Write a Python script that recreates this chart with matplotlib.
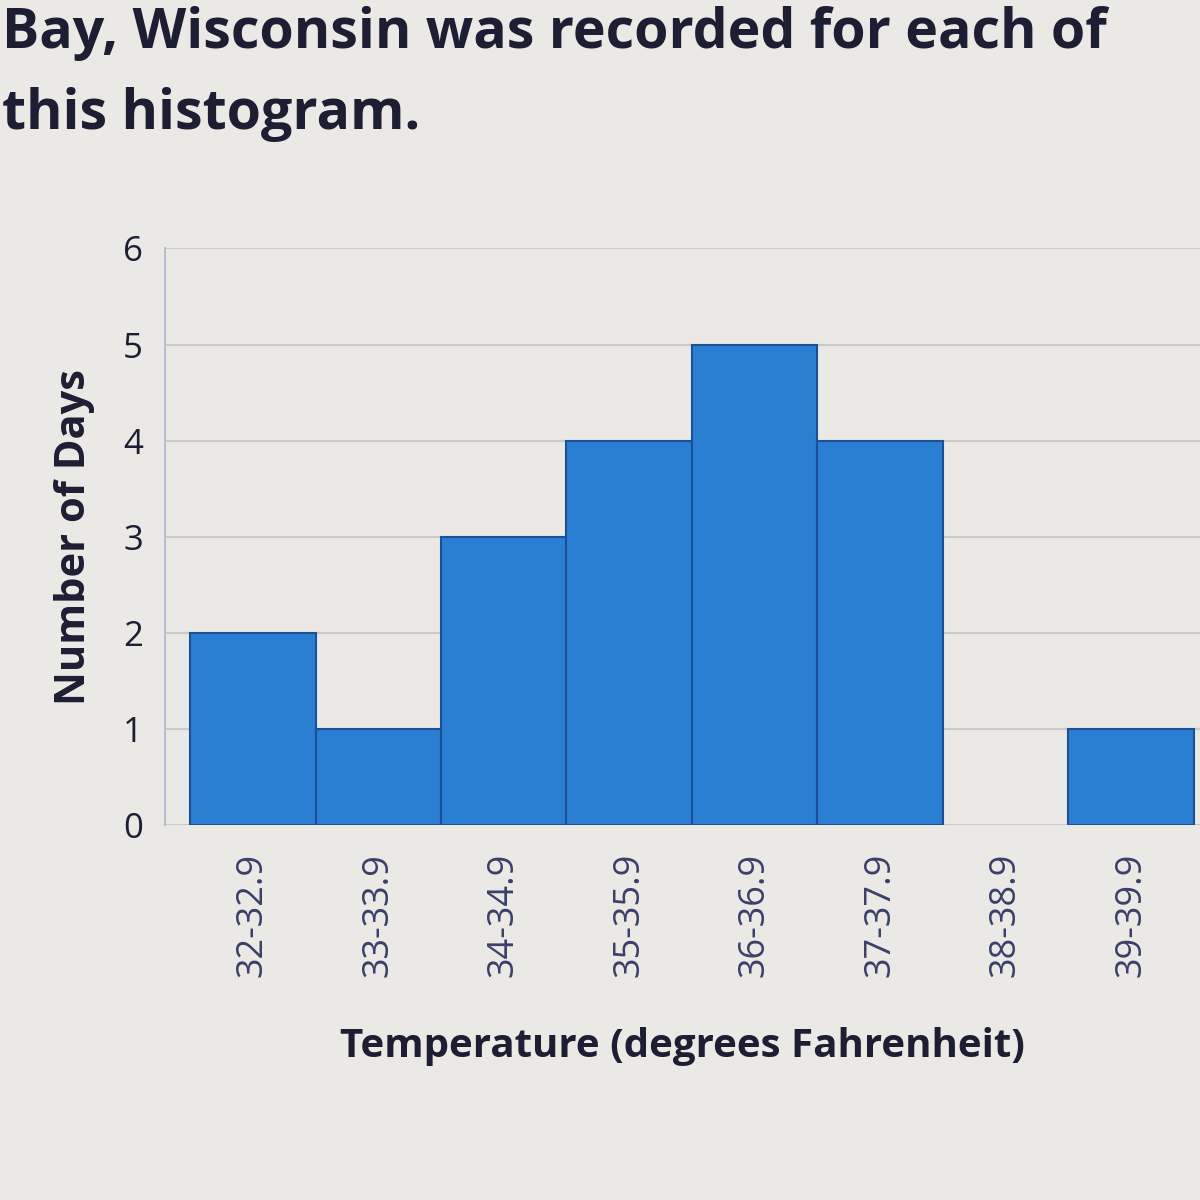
import matplotlib
matplotlib.use("Agg")
import matplotlib.pyplot as plt

# --- DATA ---
bins = ["32-32.9", "33-33.9", "34-34.9", "35-35.9",
        "36-36.9", "37-37.9", "38-38.9", "39-39.9"]
days = [2, 1, 3, 4, 5, 4, 0, 1]
yticks = [0, 1, 2, 3, 4, 5, 6]

header_lines = ["Bay, Wisconsin was recorded for each of",
                "this histogram."]

TEXT_COL = "#1d1d33"
BAR_COL = "#2a7fd3"
EDGE_COL = "#1b4f96"
BG = "#ebe9e5"

plt.rcParams["font.family"] = ["Open Sans", "DejaVu Sans"]

fig = plt.figure(figsize=(12, 12), dpi=100, facecolor=BG)

# header text from the page above the chart
fig.text(0.002, 0.972, header_lines[0], fontsize=40, fontweight="bold",
         color=TEXT_COL, va="center", ha="left")
fig.text(0.002, 0.905, header_lines[1], fontsize=40, fontweight="bold",
         color=TEXT_COL, va="center", ha="left")

ax = fig.add_axes([0.1375, 0.3125, 0.8625, 0.4805], facecolor=BG)
x = list(range(len(bins)))
edges = [EDGE_COL if d > 0 else "none" for d in days]
ax.bar(x, days, width=1.0, color=BAR_COL, edgecolor=edges, linewidth=1.5,
       zorder=3)

ax.set_xlim(-0.7, 7.55)
ax.set_ylim(0, 6)
ax.set_yticks(yticks)
ax.set_yticklabels([str(v) for v in yticks], fontsize=25, color=TEXT_COL)
ax.set_xticks(x)
ax.set_xticklabels(bins, rotation=90, fontsize=26, color="#3a3f6a")
ax.tick_params(axis="x", length=0, pad=20)
ax.tick_params(axis="y", length=0, pad=16)

ax.grid(axis="y", color="#c9c9cc", linewidth=1.5, zorder=0)
for side in ["top", "right", "bottom"]:
    ax.spines[side].set_visible(False)
ax.spines["left"].set_color("#b7bdd0")
ax.spines["left"].set_linewidth(1.5)

ax.set_ylabel("Number of Days", fontsize=30, fontweight="bold",
              color=TEXT_COL, labelpad=20)
ax.set_xlabel("Temperature (degrees Fahrenheit)", fontsize=29,
              fontweight="bold", color=TEXT_COL, labelpad=36)

fig.savefig("out.png", dpi=100, facecolor=BG)
